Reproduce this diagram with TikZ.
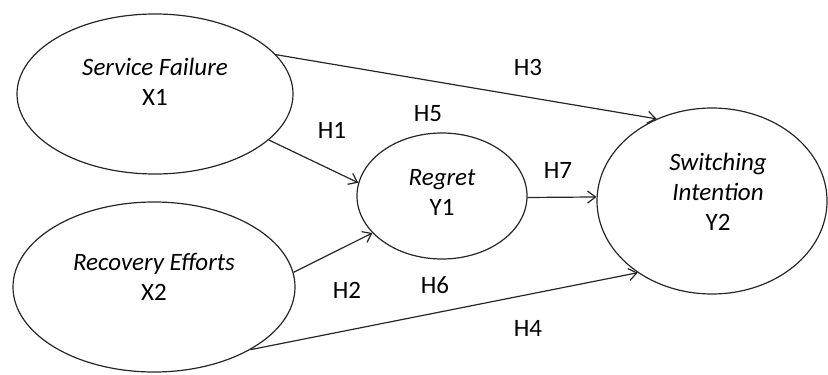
\documentclass[tikz,border=0pt]{standalone}
\usepackage{fontspec}
\setmainfont{Carlito}
\usetikzlibrary{arrows.meta, shapes.geometric}
\begin{document}
\begin{tikzpicture}[x=0.5pt, y=-0.5pt]
\tikzstyle{main}=[ellipse, draw=black!85, line width=0.6pt, inner sep=0pt]
\tikzstyle{vartext}=[align=center, font=\fontsize{12.5}{15}\selectfont, inner sep=0pt]
\tikzstyle{connect}=[-{Straight Barb[length=4pt, width=6pt]}, line width=0.6pt, draw=black!85]
\tikzstyle{hyp}=[font=\fontsize{12.5}{15}\selectfont, inner sep=0pt]
\useasboundingbox (0,0) rectangle (828,374);
    \node[main, minimum width=138pt, minimum height=80pt] (X1) at (155,94) {};
    \node[main, minimum width=141pt, minimum height=85pt] (X2) at (154,287) {};
    \node[main, minimum width=85pt, minimum height=63pt] (Y1) at (442,196) {};
    \node[main, minimum width=115pt, minimum height=93pt] (Y2) at (712,201) {};
    \node[vartext] (X1t) at ([yshift=6pt]X1.center) {\textit{Service Failure}\\X1};
    \node[vartext] (X2t) at ([yshift=5pt]X2.center) {\textit{Recovery Efforts}\\X2};
    \node[vartext] (Y1t) at ([yshift=2pt]Y1.center) {\textit{Regret}\\Y1};
    \node[vartext] (Y2t) at ([xshift=3pt, yshift=4.5pt]Y2.center) {\textit{Switching}\\\textit{Intention}\\Y2};
    \draw[connect] (X1.18) -- (Y2.124);
    \draw[connect] (X1.-22) -- (Y1.171);
    \draw[connect] (X2.6.5) -- (Y1.208);
    \draw[connect] (Y1.-1) -- (Y2.178);
    \draw[connect] (X2.-33) -- (Y2.224);
    \node[hyp] (H1) at (332,130) {H1};
    \node[hyp] (H2) at (347,290) {H2};
    \node[hyp] (H3) at (528,67) {H3};
    \node[hyp] (H4) at (528,328) {H4};
    \node[hyp] (H5) at (428,114) {H5};
    \node[hyp] (H6) at (435,285) {H6};
    \node[hyp] (H7) at (558,170) {H7};
\end{tikzpicture}
\end{document}
